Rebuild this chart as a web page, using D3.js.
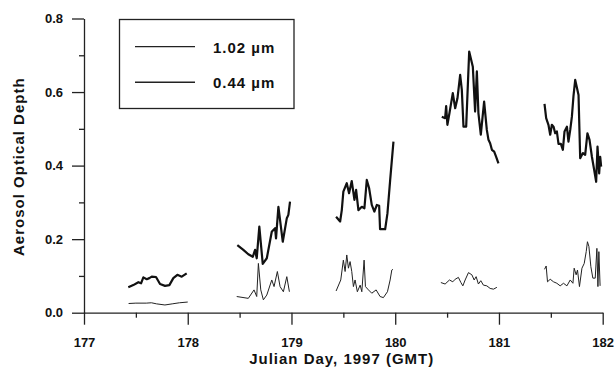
<!DOCTYPE html>
<html>
<head>
<meta charset="utf-8">
<script src="https://cdn.jsdelivr.net/npm/d3@7"></script>
<style>
  body { margin: 0; background: #fff; }
  text { font-family: "Liberation Sans", Arial, sans-serif; font-weight: bold; fill: #111; }
</style>
</head>
<body>
<div id="chart"></div>
<script>
// aerosol optical depth, [julian day, aod] per observing day
// 0.44 um (upper, thick trace)
const aod044_177 = [[177.427,0.069],[177.475,0.075],[177.524,0.083],[177.55,0.080],[177.572,0.096],[177.605,0.091],[177.63,0.094],[177.653,0.098],[177.694,0.097],[177.733,0.078],[177.781,0.073],[177.823,0.075],[177.861,0.094],[177.900,0.103],[177.942,0.098],[177.99,0.107]]
const aod044_178 = [[178.478,0.184],[178.536,0.171],[178.584,0.159],[178.627,0.152],[178.649,0.171],[178.665,0.148],[178.690,0.234],[178.723,0.133],[178.762,0.148],[178.810,0.220],[178.842,0.230],[178.851,0.202],[178.874,0.288],[178.916,0.193],[178.955,0.257],[178.970,0.266],[178.986,0.302]]
const aod044_179 = [[179.430,0.261],[179.469,0.248],[179.485,0.279],[179.500,0.329],[179.533,0.352],[179.555,0.325],[179.581,0.358],[179.607,0.307],[179.623,0.334],[179.645,0.279],[179.678,0.288],[179.703,0.284],[179.726,0.361],[179.748,0.339],[179.774,0.293],[179.799,0.275],[179.823,0.293],[179.845,0.291],[179.854,0.227],[179.903,0.227],[179.925,0.270],[179.951,0.360],[179.983,0.465]]
const aod044_180 = [[180.449,0.533],[180.481,0.529],[180.491,0.562],[180.503,0.511],[180.523,0.543],[180.555,0.597],[180.578,0.556],[180.600,0.583],[180.626,0.647],[180.642,0.606],[180.658,0.506],[180.684,0.506],[180.713,0.710],[180.748,0.669],[180.770,0.547],[180.787,0.656],[180.802,0.543],[180.825,0.484],[180.857,0.574],[180.883,0.497],[180.899,0.470],[180.915,0.461],[180.932,0.443],[180.954,0.438],[180.973,0.424],[180.995,0.406]]
const aod044_181 = [[181.439,0.568],[181.455,0.529],[181.477,0.511],[181.494,0.484],[181.510,0.511],[181.526,0.506],[181.542,0.488],[181.558,0.493],[181.574,0.459],[181.597,0.459],[181.616,0.443],[181.632,0.493],[181.655,0.506],[181.670,0.465],[181.687,0.497],[181.703,0.533],[181.718,0.588],[181.735,0.633],[181.767,0.592],[181.783,0.420],[181.809,0.434],[181.831,0.429],[181.853,0.488],[181.873,0.470],[181.896,0.424],[181.918,0.388],[181.937,0.356],[181.950,0.452],[181.966,0.379],[181.976,0.424],[181.985,0.397]]

// 1.02 um (lower, thin trace)
const aod102_177 = [[177.43,0.025],[177.5,0.026],[177.6,0.026],[177.65,0.027],[177.7,0.024],[177.78,0.021],[177.85,0.024],[177.92,0.027],[178.0,0.029]]
const aod102_178 = [[178.472,0.044],[178.584,0.039],[178.639,0.062],[178.665,0.044],[178.681,0.134],[178.704,0.062],[178.729,0.035],[178.762,0.048],[178.810,0.089],[178.832,0.071],[178.864,0.112],[178.890,0.071],[178.922,0.057],[178.955,0.098],[178.980,0.057]]
const aod102_179 = [[179.430,0.059],[179.475,0.089],[179.500,0.143],[179.517,0.112],[179.533,0.157],[179.549,0.121],[179.565,0.139],[179.581,0.112],[179.597,0.071],[179.613,0.089],[179.635,0.057],[179.662,0.075],[179.678,0.057],[179.700,0.143],[179.713,0.071],[179.742,0.062],[179.774,0.053],[179.816,0.062],[179.854,0.044],[179.886,0.041],[179.925,0.057],[179.951,0.089],[179.967,0.116],[179.977,0.118]]
const aod102_180 = [[180.440,0.082],[180.481,0.078],[180.523,0.089],[180.555,0.084],[180.578,0.091],[180.609,0.096],[180.633,0.082],[180.652,0.073],[180.674,0.089],[180.706,0.109],[180.739,0.103],[180.761,0.089],[180.780,0.098],[180.802,0.078],[180.825,0.087],[180.850,0.075],[180.883,0.073],[180.915,0.066],[180.947,0.064],[180.980,0.069]]
const aod102_181 = [[181.439,0.118],[181.455,0.127],[181.468,0.084],[181.494,0.091],[181.526,0.084],[181.558,0.080],[181.590,0.073],[181.622,0.080],[181.655,0.073],[181.687,0.089],[181.713,0.080],[181.725,0.121],[181.744,0.103],[181.757,0.116],[181.776,0.071],[181.800,0.121],[181.822,0.134],[181.841,0.166],[181.853,0.193],[181.867,0.180],[181.886,0.125],[181.905,0.094],[181.928,0.094],[181.944,0.175],[181.954,0.071],[181.963,0.166],[181.975,0.073]]

const series044 = [aod044_177, aod044_178, aod044_179, aod044_180, aod044_181]
const series102 = [aod102_177, aod102_178, aod102_179, aod102_180, aod102_181]

const xTicks = [177, 178, 179, 180, 181, 182]
const xMinor = [177.5, 178.5, 179.5, 180.5, 181.5]
const yTicks = [0, 0.2, 0.4, 0.6, 0.8]
const yMinor = [0.1, 0.3, 0.5, 0.7]
const legendLabels = ["1.02 \u00b5m", "0.44 \u00b5m"]

var width = 615, height = 368
var svg = d3.select("#chart").append("svg")
  .attr("width", width)
  .attr("height", height)

var x = d3.scaleLinear().domain([177, 182]).range([84, 602.7])
var y = d3.scaleLinear().domain([0, 0.8]).range([312.7, 18.5])

// x axis, major + minor ticks
var xAxis = svg.append("g")
  .attr("transform", "translate(0," + y(0) + ")")
  .call(d3.axisBottom(x).tickValues(xTicks).tickFormat(d3.format("d"))
    .tickSize(12).tickSizeOuter(0).tickPadding(13))
svg.append("g")
  .attr("transform", "translate(0," + y(0) + ")")
  .call(d3.axisBottom(x).tickValues(xMinor).tickFormat("").tickSize(5).tickSizeOuter(0))
  .select(".domain").remove()

// y axis
var yAxis = svg.append("g")
  .attr("transform", "translate(" + x(177) + ",0)")
  .call(d3.axisLeft(y).tickValues(yTicks).tickFormat(d3.format(".1f"))
    .tickSize(12).tickSizeOuter(0).tickPadding(9))
svg.append("g")
  .attr("transform", "translate(" + x(177) + ",0)")
  .call(d3.axisLeft(y).tickValues(yMinor).tickFormat("").tickSize(5).tickSizeOuter(0))
  .select(".domain").remove()

svg.selectAll(".domain, .tick line").attr("stroke", "#222").attr("stroke-width", 1.3)
svg.selectAll(".tick text").attr("font-size", 13).attr("fill", "#111")
  .style("font-family", "'Liberation Sans', Arial, sans-serif").style("font-weight", "bold")

// axis titles
svg.append("text")
  .attr("x", 341.7).attr("y", 364)
  .attr("text-anchor", "middle")
  .attr("font-size", 15)
  .style("letter-spacing", "1px")
  .text("Julian Day, 1997 (GMT)")

svg.append("text")
  .attr("transform", "translate(24,166.7) rotate(-90)")
  .attr("text-anchor", "middle")
  .attr("font-size", 15)
  .style("letter-spacing", "1px")
  .text("Aerosol Optical Depth")

// the traces
var line = d3.line().x(d => x(d[0])).y(d => y(d[1]))

svg.append("g").selectAll("path")
  .data(series102)
  .enter().append("path")
    .attr("d", line)
    .attr("fill", "none")
    .attr("stroke", "#222")
    .attr("stroke-width", 1)
    .attr("stroke-linejoin", "round")

svg.append("g").selectAll("path")
  .data(series044)
  .enter().append("path")
    .attr("d", line)
    .attr("fill", "none")
    .attr("stroke", "#111")
    .attr("stroke-width", 2.2)
    .attr("stroke-linejoin", "round")

// legend
var legend = svg.append("g")
legend.append("rect")
  .attr("x", 119.5).attr("y", 19.5)
  .attr("width", 174.5).attr("height", 89)
  .attr("fill", "none").attr("stroke", "#222").attr("stroke-width", 1.3)

legend.selectAll("line")
  .data(legendLabels)
  .enter().append("line")
    .attr("x1", 135).attr("x2", 195)
    .attr("y1", (d, i) => 46.7 + i * 35.5)
    .attr("y2", (d, i) => 46.7 + i * 35.5)
    .attr("stroke", "#222").attr("stroke-width", (d, i) => i ? 1.5 : 1.2)

legend.selectAll("text")
  .data(legendLabels)
  .enter().append("text")
    .attr("x", 213)
    .attr("y", (d, i) => 52.5 + i * 35)
    .attr("font-size", 15)
    .style("letter-spacing", "1px")
    .text(d => d)
</script>
</body>
</html>
